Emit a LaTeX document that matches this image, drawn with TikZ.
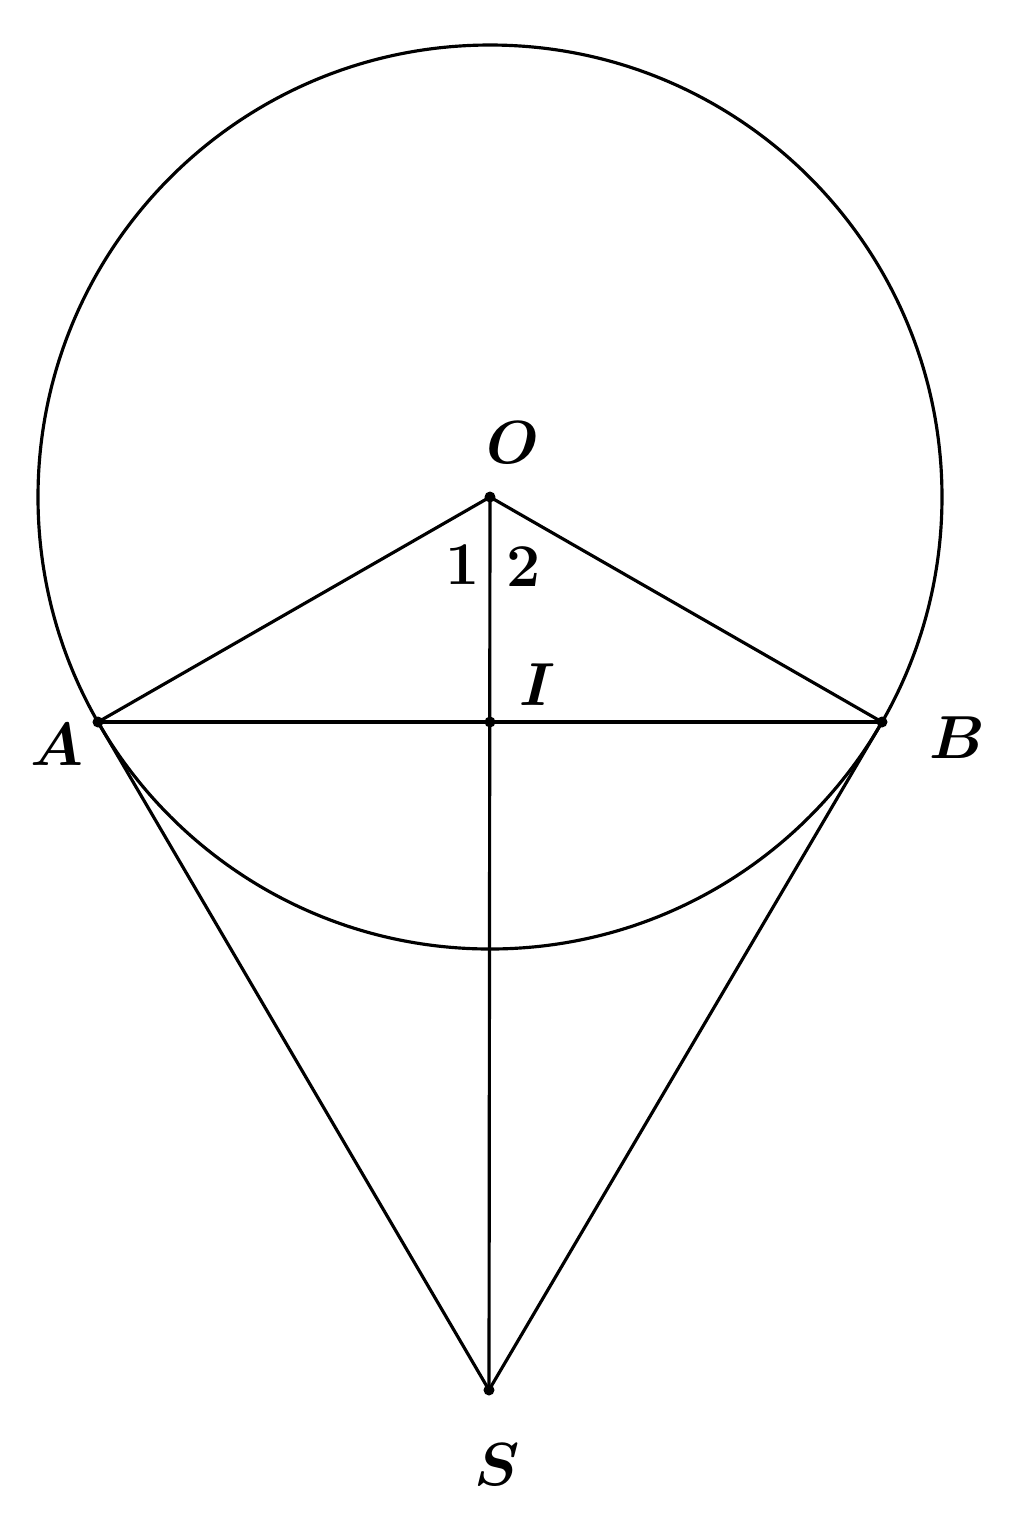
\documentclass[tikz,border=0pt]{standalone}
\usepackage{bm}
\begin{document}
\begin{tikzpicture}[x=0.01cm,y=-0.01cm,
  geo/.style={line width=0.9pt, black},
  lbl/.style={inner sep=0pt, font=\fontsize{17}{20}\selectfont},
  dotpt/.style={circle, fill=black, inner sep=0pt, minimum size=0.11cm}]
\useasboundingbox (0,0) rectangle (1024,1526);
\coordinate (O) at (490,497);
\coordinate (A) at (98,722);
\coordinate (B) at (882,722);
\coordinate (I) at (490,722);
\coordinate (S) at (489,1390);
\draw[geo] (O) circle (452);
\draw[geo] (A) -- (B);
\draw[geo] (O) -- (A);
\draw[geo] (O) -- (B);
\draw[geo] (O) -- (S);
\draw[geo] (A) -- (S);
\draw[geo] (B) -- (S);
\node[dotpt] (Od) at (O) {};
\node[dotpt] (Ad) at (A) {};
\node[dotpt] (Bd) at (B) {};
\node[dotpt] (Id) at (I) {};
\node[dotpt] (Sd) at (S) {};
\node[lbl] (lO) at (513,443) {$\bm{O}$};
\node[lbl] (l1) at (463,565) {$\bm{1}$};
\node[lbl] (l2) at (524,567) {$\bm{2}$};
\node[lbl] (lI) at (537,685) {$\bm{I}$};
\node[lbl] (lA) at (57,745) {$\bm{A}$};
\node[lbl] (lB) at (957,738) {$\bm{B}$};
\node[lbl] (lS) at (497,1465) {$\bm{S}$};
\end{tikzpicture}
\end{document}
